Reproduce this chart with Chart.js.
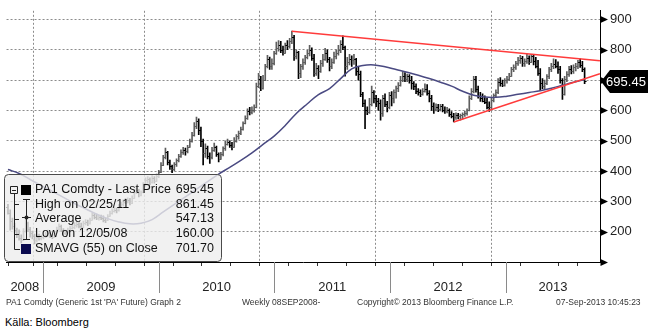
<!DOCTYPE html>
<html>
<head>
<meta charset="utf-8">
<script src="https://cdn.jsdelivr.net/npm/chart.js@4"></script>
<style>
  body { margin: 0; background: #fff; width: 648px; height: 330px; position: relative; overflow: hidden;
         font-family: 'Liberation Sans', Arial, sans-serif; }
  #chart { position: absolute; left: 0; top: 0; }
  .foot { position: absolute; top: 297px; font-size: 8.5px; line-height: 10px; color: #333; white-space: nowrap; }
  #source { position: absolute; left: 5px; top: 316px; font-size: 11px; line-height: 13px; color: #000; }
</style>
</head>
<body>
<canvas id="chart" width="648" height="300"></canvas>
<div class="foot" style="left:6px">PA1 Comdty (Generic 1st 'PA' Future) Graph 2</div>
<div class="foot" style="left:242px">Weekly 08SEP2008-</div>
<div class="foot" style="left:357px">Copyright© 2013 Bloomberg Finance L.P.</div>
<div class="foot" style="left:556px">07-Sep-2013 10:45:23</div>
<div id="source">Källa: Bloomberg</div>
<script>
// Weekly palladium bars, one per week starting with the week of 08 Sep 2008
const opens = [
  283,262,235,218,205,192,180,172,202,228,208,196,186,172,183,180,184,
  186,190,196,185,183,196,210,218,206,195,200,206,212,216,222,226,220,216,228,233,228,240,255,250,246,248,244,240,238,252,262,268,272,270,285,290,298,302,305,295,312,330,336,322,330,355,370,374,365,376,368,384,
  396,420,445,462,430,415,408,422,436,450,462,470,465,480,500,520,548,565,535,500,458,475,450,445,470,480,455,440,455,475,490,495,485,480,500,515,525,540,558,575,598,595,602,610,680,705,675,700,745,770,745,755,
  790,805,815,800,790,815,812,830,842,778,792,725,745,760,775,790,798,772,725,740,730,755,770,790,768,745,760,780,790,800,820,810,745,760,770,765,770,730,720,655,625,600,595,620,660,640,630,625,590,640,620,610,
  650,640,660,675,685,700,715,705,712,700,690,680,665,660,655,665,672,658,640,615,605,612,606,615,602,598,600,588,582,578,585,580,584,588,592,600,640,665,702,670,648,640,632,628,612,610,635,650,660,695,690,685,700,
  705,715,735,742,755,765,772,755,762,772,760,778,762,748,725,690,680,690,712,735,745,752,748,735,700,655,705,720,738,730,742,748,758,750,735
];
const highs = [
  290,272,245,228,212,206,190,210,242,232,214,202,192,190,192,189,190,
  198,205,198,192,200,215,226,222,210,205,212,218,225,230,235,230,228,235,240,238,245,262,260,258,255,255,252,245,256,268,275,282,278,290,298,305,310,312,310,318,338,345,340,335,362,378,382,378,385,382,390,402,
  428,452,476,465,436,420,428,440,455,470,478,476,485,505,528,560,578,572,545,505,490,482,460,478,492,482,460,462,480,500,505,500,495,510,520,532,545,562,582,605,610,612,618,690,722,712,716,752,782,776,770,795,
  825,830,828,812,822,830,838,861.45,848,800,795,752,770,782,798,815,806,785,755,748,765,785,805,800,775,770,792,800,815,830,846,812,775,785,780,785,772,742,730,660,635,612,640,680,665,650,640,635,650,655,630,660,
  662,668,680,692,712,728,725,720,718,712,695,688,672,668,672,688,685,665,650,625,622,620,620,620,612,610,605,596,590,592,590,588,592,598,605,648,672,712,712,680,660,655,648,640,628,640,655,668,705,708,700,705,712,
  722,742,750,762,775,782,778,770,786,780,785,782,775,765,738,705,700,718,742,755,770,768,760,745,705,712,728,745,748,750,755,765,770,762,740
];
const lows = [
  258,205,208,195,180,172,163,170,198,200,182,176,160,166,172,173,176,
  180,185,180,177,180,194,205,200,190,190,195,200,208,210,215,212,210,212,222,220,225,238,242,240,238,240,232,230,236,250,258,264,262,268,280,285,292,295,288,292,310,325,315,318,328,350,360,355,360,360,366,378,
  395,418,440,420,405,395,400,415,430,445,455,452,460,478,495,515,540,520,480,420,445,440,425,440,465,448,430,438,450,468,485,478,470,478,495,505,520,535,555,570,585,588,594,608,675,665,670,698,740,735,735,750,
  785,795,790,782,788,800,805,820,765,770,705,708,735,752,770,780,765,712,715,705,725,745,765,758,730,738,755,770,782,790,800,713,735,750,745,752,715,700,645,612,540,586,590,615,625,612,600,568,580,612,595,605,
  615,625,640,662,680,695,695,695,690,670,668,655,650,645,650,660,650,628,600,590,598,596,598,595,590,592,580,575,562,570,572,568,572,580,584,598,635,658,660,640,630,628,622,605,597,605,628,642,655,680,678,680,690,
  698,712,728,735,748,755,745,745,755,752,758,750,740,715,665,672,670,685,705,728,738,740,722,690,636,650,695,712,720,722,730,738,742,728,688
];
const closes = [
  262,235,218,205,192,180,172,202,228,208,196,186,172,183,180,184,186,
  190,196,185,183,196,210,218,206,195,200,206,212,216,222,226,220,216,228,233,228,240,255,250,246,248,244,240,238,252,262,268,272,270,285,290,298,302,305,295,312,330,336,322,330,355,370,374,365,376,368,384,396,
  420,445,462,430,415,408,422,436,450,462,470,465,480,500,520,548,565,535,500,458,475,450,445,470,480,455,440,455,475,490,495,485,480,500,515,525,540,558,575,598,595,602,610,680,705,675,700,745,770,745,755,790,
  805,815,800,790,815,812,830,842,778,792,725,745,760,775,790,798,772,725,740,730,755,770,790,768,745,760,780,790,800,820,810,745,760,770,765,770,730,720,655,625,600,595,620,660,640,630,625,590,640,620,610,650,
  640,660,675,685,700,715,705,712,700,690,680,665,660,655,665,672,658,640,615,605,612,606,615,602,598,600,588,582,578,585,580,584,588,592,600,640,665,702,670,648,640,632,628,612,610,635,650,660,695,690,685,700,705,
  715,735,742,755,765,772,755,762,772,760,778,762,748,725,690,680,690,712,735,745,752,748,735,700,655,705,720,738,730,742,748,758,750,735,695.45
];

// 55-week simple moving average of the close, read every 5 weeks
const smaWeeks  = [0,5,10,15,20,25,30,35,40,45,50,55,60,65,70,75,80,85,90,95,100,105,110,115,120,125,130,135,140,145,150,155,160,165,170,175,180,185,190,195,200,205,210,215,220,225,230,235,240,245,250,255,260];
const smaValues = [405,392,372,352,333,313,293,275,258,243,232,226,228,240,265,290,315,340,365,390,412,435,460,488,515,550,590,622,652,672,705,737,748,750,744,735,726,716,705,693,680,663,650,644,643,647,653,659,665,673,683,693,701.70];

// hand-drawn trend lines: [week, price]
const upperTrend = [[128, 861.45], [266.9, 764]];
const lowerTrend = [[201, 562], [266.9, 721]];

const averageClose = 547.13;
const years = [2008, 2009, 2010, 2011, 2012, 2013];
const priceTicks = [200, 300, 400, 500, 600, 700, 800, 900];

// x axis runs in weeks, 0 = Friday 12 Sep 2008
const DAY = 86400000;
const firstBar = Date.UTC(2008, 8, 12);
const weekOf = (y, m, d) => (Date.UTC(y, m, d) - firstBar) / (7 * DAY);
const xMin = -0.644, xMax = 266.94;
const yMin = 100, yMax = 928.5;

const yearStarts = years.slice(1).map(y => weekOf(y, 0, 1));
const quarterTicks = [];
years.forEach(y => [0, 3, 6, 9].forEach(m => {
  const w = weekOf(y, m, 1);
  if (w > xMin && w < xMax) quarterTicks.push(w);
}));
const labelTicks = years.map(y =>
  (Math.max(weekOf(y, 0, 1), xMin) + Math.min(weekOf(y + 1, 0, 1), xMax)) / 2);
const near = (list, v) => list.findIndex(t => Math.abs(t - v) < 1e-6);

const bars = closes.map((c, i) => ({ x: i, y: [lows[i], highs[i]] }));
const barColor = i => closes[i] >= opens[i] ? '#5e5e5e' : '#000000';
const last = closes.length - 1;

function fmtDate(i) {
  const d = new Date(firstBar + i * 7 * DAY);
  const p = n => String(n).padStart(2, '0');
  return p(d.getUTCMonth() + 1) + '/' + p(d.getUTCDate()) + '/' + p(d.getUTCFullYear() % 100);
}

// open / close ticks on each weekly bar
const ohlcTicks = {
  id: 'ohlcTicks',
  afterDatasetDraw(chart, args) {
    if (args.index !== 0) return;
    const { ctx, scales: { y } } = chart;
    ctx.save();
    ctx.lineWidth = 1;
    args.meta.data.forEach((bar, i) => {
      const yo = Math.round(y.getPixelForValue(opens[i])) + 0.5;
      const yc = Math.round(y.getPixelForValue(closes[i])) + 0.5;
      ctx.strokeStyle = barColor(i);
      ctx.beginPath();
      ctx.moveTo(bar.x - 2, yo); ctx.lineTo(bar.x, yo);
      ctx.moveTo(bar.x, yc); ctx.lineTo(bar.x + 2, yc);
      ctx.stroke();
    });
    ctx.restore();
  }
};

// long year separators under the axis and arrow marks on the price axis
const axisMarks = {
  id: 'axisMarks',
  afterDraw(chart) {
    const { ctx, scales: { x, y } } = chart;
    ctx.save();
    ctx.strokeStyle = '#8a8a8a';
    ctx.lineWidth = 1;
    yearStarts.forEach(b => {
      const px = Math.round(x.getPixelForValue(b)) + 0.5;
      ctx.beginPath(); ctx.moveTo(px, x.top); ctx.lineTo(px, x.top + 31); ctx.stroke();
    });
    ctx.fillStyle = '#000';
    [100].concat(priceTicks).forEach(v => {
      const py = Math.round(y.getPixelForValue(v)) + 0.5;
      ctx.beginPath();
      ctx.moveTo(y.left + 0.5, py - 3.5); ctx.lineTo(y.left + 8, py); ctx.lineTo(y.left + 0.5, py + 3.5);
      ctx.closePath(); ctx.fill();
    });
    ctx.restore();
  }
};

// last price flag on the right axis
const priceTag = {
  id: 'priceTag',
  afterDraw(chart) {
    const { ctx, scales: { y } } = chart;
    const py = y.getPixelForValue(closes[last]);
    const x0 = chart.chartArea.right + 1;
    ctx.save();
    ctx.fillStyle = '#000';
    ctx.beginPath();
    ctx.moveTo(x0, py); ctx.lineTo(x0 + 9, py - 11.5); ctx.lineTo(648, py - 11.5);
    ctx.lineTo(648, py + 11.5); ctx.lineTo(x0 + 9, py + 11.5); ctx.closePath(); ctx.fill();
    ctx.fillStyle = '#fff';
    ctx.font = '13px "Liberation Sans", Arial, sans-serif';
    ctx.textAlign = 'center'; ctx.textBaseline = 'middle';
    ctx.fillText(closes[last].toFixed(2), x0 + 25, py + 0.5);
    ctx.restore();
  }
};

// statistics panel in the lower left corner
const statsBox = {
  id: 'statsBox',
  afterDraw(chart) {
    const ctx = chart.ctx;
    const hi = highs.indexOf(Math.max(...highs));
    const lo = lows.indexOf(Math.min(...lows));
    const rows = [
      ['PA1 Comdty - Last Price', closes[last]],
      ['High on ' + fmtDate(hi), highs[hi]],
      ['Average', averageClose],
      ['Low on ' + fmtDate(lo), lows[lo]],
      ['SMAVG (55) on Close', smaValues[smaValues.length - 1]]
    ];
    const rowY = [190, 204.5, 219, 234, 249];
    ctx.save();
    ctx.beginPath();
    ctx.roundRect(4.5, 174.5, 217, 87, 4);
    ctx.fillStyle = 'rgba(238,238,238,0.8)';
    ctx.fill();
    ctx.strokeStyle = '#4a4a4a'; ctx.lineWidth = 1; ctx.stroke();

    ctx.strokeStyle = '#222';
    ctx.beginPath();
    ctx.rect(10.5, 186.5, 7, 7);
    ctx.moveTo(12, 190.5); ctx.lineTo(16, 190.5);
    ctx.moveTo(14.5, 193.5); ctx.lineTo(14.5, 249.5); ctx.lineTo(20, 249.5);
    [204.5, 219.5, 234.5].forEach(v => { ctx.moveTo(14.5, v); ctx.lineTo(19, v); });
    ctx.moveTo(26.5, 199.5); ctx.lineTo(26.5, 239.5);
    ctx.moveTo(23, 199.5); ctx.lineTo(30, 199.5);
    ctx.moveTo(23, 239.5); ctx.lineTo(30, 239.5);
    ctx.moveTo(22, 217.5); ctx.lineTo(31, 217.5);
    ctx.stroke();
    ctx.fillStyle = '#222';
    ctx.beginPath(); ctx.arc(26.5, 217.5, 2, 0, Math.PI * 2); ctx.fill();
    ctx.fillStyle = '#000'; ctx.fillRect(21, 185, 10, 10);
    ctx.fillStyle = '#0b0b4f'; ctx.fillRect(21, 244, 10, 10);

    ctx.font = '12.5px "Liberation Sans", Arial, sans-serif';
    ctx.textBaseline = 'middle';
    ctx.fillStyle = '#111';
    rows.forEach((r, k) => {
      ctx.textAlign = 'left';
      ctx.fillText(r[0], 35, rowY[k]);
      ctx.textAlign = 'right';
      ctx.fillText(r[1].toFixed(2), 214, rowY[k]);
    });
    ctx.restore();
  }
};

const axisFont = { family: "'Liberation Sans Narrow', 'Liberation Sans', sans-serif", size: 13 };

new Chart(document.getElementById('chart'), {
  type: 'bar',
  data: {
    datasets: [
      {
        label: 'PA1 Comdty',
        data: bars,
        backgroundColor: c => barColor(c.dataIndex),
        barThickness: 1,
        grouped: false,
        order: 3
      },
      {
        type: 'line',
        label: 'SMAVG (55) on Close',
        data: smaWeeks.map((w, i) => ({ x: w, y: smaValues[i] })),
        borderColor: '#4a4a82',
        borderWidth: 1.5,
        pointRadius: 0,
        tension: 0.4,
        order: 2
      },
      {
        type: 'line',
        label: 'Upper trend',
        data: upperTrend.map(p => ({ x: p[0], y: p[1] })),
        borderColor: '#ff3b3b',
        borderWidth: 1.5,
        pointRadius: 0,
        order: 1
      },
      {
        type: 'line',
        label: 'Lower trend',
        data: lowerTrend.map(p => ({ x: p[0], y: p[1] })),
        borderColor: '#ff3b3b',
        borderWidth: 1.5,
        pointRadius: 0,
        order: 1
      }
    ]
  },
  options: {
    responsive: false,
    devicePixelRatio: 1,
    animation: false,
    layout: { padding: 0 },
    scales: {
      x: {
        type: 'linear',
        min: xMin,
        max: xMax,
        offset: false,
        afterBuildTicks: s => {
          s.ticks = quarterTicks.concat(labelTicks).sort((a, b) => a - b).map(v => ({ value: v }));
        },
        afterFit: s => { s.height = 38; },
        ticks: {
          autoSkip: false,
          maxRotation: 0,
          padding: 14,
          color: '#222',
          font: axisFont,
          callback: v => { const k = near(labelTicks, v); return k >= 0 ? String(years[k]) : ''; }
        },
        grid: {
          color: c => c.tick && near(yearStarts, c.tick.value) >= 0 ? '#8c8c8c' : 'transparent',
          tickColor: c => c.tick && near(labelTicks, c.tick.value) >= 0 ? 'transparent' : '#333',
          tickLength: 4,
          tickBorderDash: []
        },
        border: { display: true, color: '#000', width: 1, dash: [2, 2] }
      },
      y: {
        position: 'right',
        min: yMin,
        max: yMax,
        afterBuildTicks: s => {
          const t = [];
          for (let v = 100; v <= 900; v += 50) t.push({ value: v });
          t.push({ value: yMax });
          s.ticks = t;
        },
        afterFit: s => { s.width = 48; },
        ticks: {
          padding: 3,
          color: '#222',
          font: axisFont,
          callback: v => v === yMax ? null : (priceTicks.includes(v) ? String(v) : '')
        },
        grid: {
          color: c => c.tick && priceTicks.includes(c.tick.value) ? '#8c8c8c' : 'transparent',
          tickColor: c => c.tick && c.tick.value % 100 === 50 ? '#000' : 'transparent',
          tickLength: 7,
          tickBorderDash: []
        },
        border: { display: true, color: '#000', width: 1, dash: [2, 2] }
      }
    },
    plugins: {
      legend: { display: false },
      tooltip: { enabled: false }
    }
  },
  plugins: [ohlcTicks, axisMarks, priceTag, statsBox]
});
</script>
</body>
</html>
